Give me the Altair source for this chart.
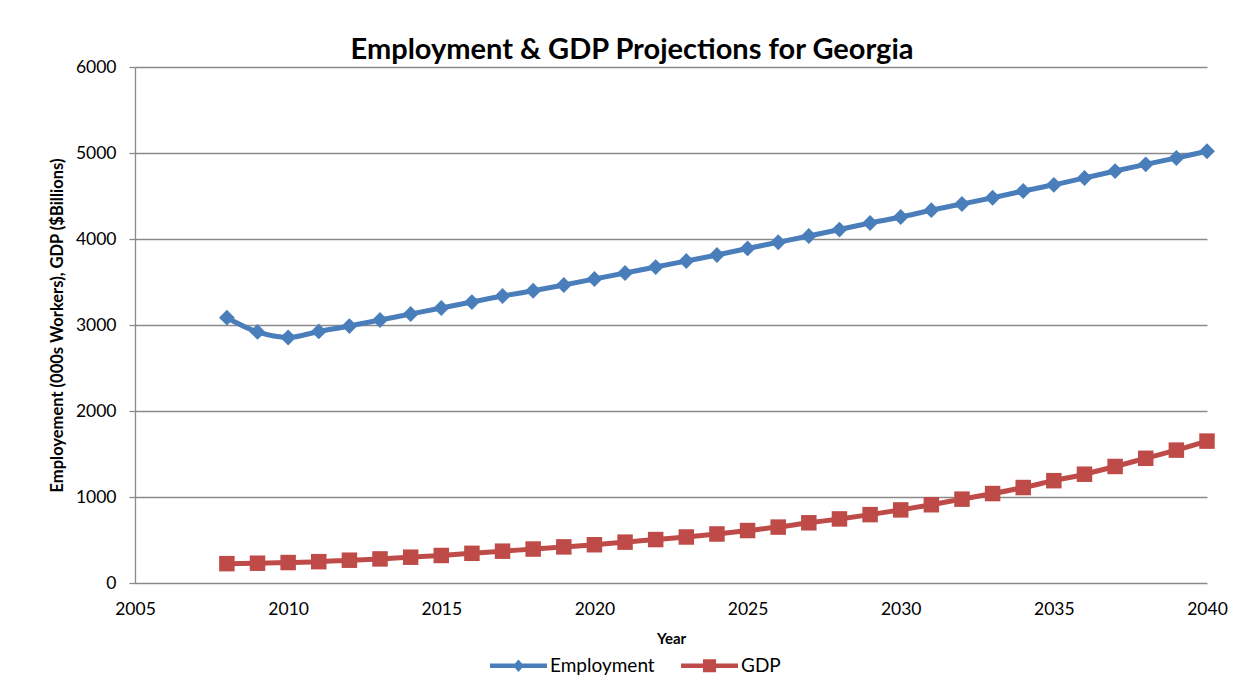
import altair as alt
import pandas as pd

years = list(range(2008, 2041))
employment = [3085, 2919, 2855, 2925, 2988, 3058, 3128, 3198, 3267, 3337, 3398,
              3465, 3535, 3605, 3674, 3744, 3814, 3890, 3962, 4035, 4110, 4186,
              4256, 4335, 4407, 4480, 4558, 4630, 4709, 4790, 4868, 4942, 5020]
gdp = [225, 230, 238, 248, 265, 280, 300, 320, 345, 370, 395, 420, 445, 475,
       505, 535, 570, 610, 650, 700, 745, 795, 850, 910, 975, 1040, 1110, 1190,
       1265, 1355, 1450, 1545, 1650]
series_names = ["Employment", "GDP"]
colors = ["#4A7EBB", "#BE4B48"]
x_ticks = [2005, 2010, 2015, 2020, 2025, 2030, 2035, 2040]
y_ticks = [0, 1000, 2000, 3000, 4000, 5000, 6000]

df = pd.DataFrame({
    "Year": years * 2,
    "Value": employment + gdp,
    "Series": ["Employment"] * len(years) + ["GDP"] * len(years),
})

FONT = "Lato"
GRID = "#8a8a8a"

color_scale = alt.Scale(domain=series_names, range=colors)

x_enc = alt.X(
    "Year:Q",
    scale=alt.Scale(domain=[2005, 2040], nice=False, zero=False),
    axis=alt.Axis(values=x_ticks, format="d", grid=False, domain=False, ticks=False,
                  labelFlush=False, labelPadding=17, labelFontSize=17.5, labelColor="#000",
                  labelFont=FONT, title="Year", titleFont=FONT, titleFontSize=15,
                  titleFontWeight="bold", titlePadding=14, titleColor="#000"),
)
y_enc = alt.Y(
    "Value:Q",
    scale=alt.Scale(domain=[0, 6000], nice=False),
    axis=alt.Axis(values=y_ticks, format="d", grid=True, gridColor=GRID, gridWidth=1.3,
                  domain=True, domainColor=GRID, domainWidth=1.3, ticks=True,
                  tickColor=GRID, tickSize=6, tickWidth=1.3, labelPadding=13,
                  labelFontSize=17.5, labelColor="#000", labelFont=FONT,
                  title="Employement (000s Workers), GDP ($Billions)", titleFont=FONT,
                  titleFontSize=16.5, titleFontWeight="bold", titlePadding=10,
                  titleColor="#000"),
)

base = alt.Chart(df)

path_emp = "M-1,-0.075L1,-0.075L1,0.075L-1,0.075Z M0,-0.22L0.19,0L0,0.22L-0.19,0Z"
path_gdp = "M-1,-0.075L1,-0.075L1,0.075L-1,0.075Z M-0.23,-0.23L0.23,-0.23L0.23,0.23L-0.23,0.23Z"

legend_cfg = alt.Legend(
    title=None, orient="none", legendX=355, legendY=570, direction="horizontal",
    symbolSize=3249, symbolStrokeWidth=0, symbolOpacity=1, labelFontSize=19,
    labelFont=FONT, labelColor="#000", labelOffset=3, columnPadding=26,
)

# invisible layer that only carries the legend (placed first so its legend wins the merge)
legend_layer = base.mark_point(filled=True, opacity=0).encode(
    x=x_enc, y=y_enc,
    color=alt.Color("Series:N", scale=color_scale, legend=legend_cfg),
    shape=alt.Shape("Series:N", scale=alt.Scale(domain=series_names, range=[path_emp, path_gdp]),
                    legend=legend_cfg),
)

lines = base.mark_line(strokeWidth=5, interpolate="monotone").encode(
    x=x_enc, y=y_enc,
    color=alt.Color("Series:N", scale=color_scale),
)

emp_pts = base.transform_filter("datum.Series == 'Employment'").mark_point(
    shape="diamond", filled=True, size=250, opacity=1
).encode(x=x_enc, y=y_enc, color=alt.Color("Series:N", scale=color_scale))

gdp_pts = base.transform_filter("datum.Series == 'GDP'").mark_point(
    shape="square", filled=True, size=240, opacity=1
).encode(x=x_enc, y=y_enc, color=alt.Color("Series:N", scale=color_scale))

chart = alt.layer(legend_layer, lines, emp_pts, gdp_pts).properties(
    width=1072, height=516,
    title=alt.Title("Employment & GDP Projections for Georgia", font=FONT, fontSize=29,
                    fontWeight="bold", color="#000", anchor="middle", dx=-39, dy=12, offset=5),
    autosize=alt.AutoSizeParams(type="none"),
    padding={"left": 127, "top": 59, "right": 30, "bottom": 100},
).configure(background="white").configure_view(stroke=None)

chart.save("out.html", embed_options={"renderer": "svg", "actions": False})
